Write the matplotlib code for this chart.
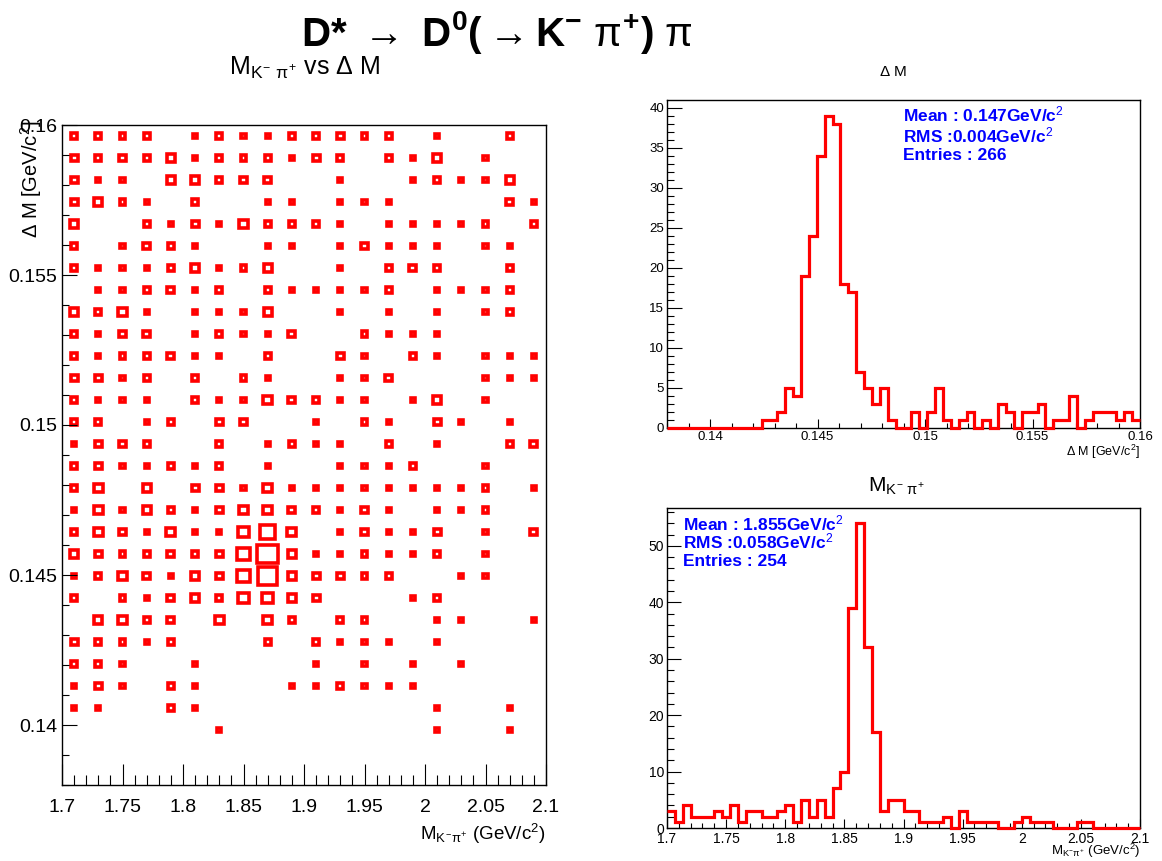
import numpy as np
import matplotlib
matplotlib.use('Agg')
import matplotlib.pyplot as plt
from matplotlib.patches import Rectangle
from matplotlib.ticker import MultipleLocator, FuncFormatter

plt.rcParams['font.family'] = ['Liberation Sans', 'DejaVu Sans']
plt.rcParams['mathtext.fontset'] = 'custom'
plt.rcParams['mathtext.rm'] = 'Liberation Sans'
plt.rcParams['mathtext.it'] = 'Liberation Sans'
plt.rcParams['mathtext.bf'] = 'Liberation Sans:bold'

# Delta M histogram, 60 bins from 0.138 to 0.16
dm_lo, dm_hi, dm_nbins = 0.138, 0.16, 60
dm_counts = [0, 0, 0, 0, 0, 0, 0, 0, 0, 0, 0, 0,
             1, 1, 2, 5, 4, 19, 24, 34, 39, 38, 18, 17, 7, 5, 3, 5, 1, 0,
             0, 2, 0, 2, 5, 1, 0, 1, 2, 0, 1, 0, 3, 2, 0, 2, 2, 3, 0, 1,
             1, 4, 0, 1, 2, 2, 2, 1, 2, 1]

# M(K pi) histogram, 60 bins from 1.7 to 2.1
m_lo, m_hi, m_nbins = 1.7, 2.1, 60
m_counts = [3, 1, 4, 2, 2, 2, 3, 2, 4, 1, 3, 3, 2, 2, 3, 4, 1, 5, 2, 5,
            2, 7, 10, 39, 54, 32, 17, 3, 5, 5, 3, 3, 1, 1, 1, 2, 0, 3, 1, 1,
            1, 1, 0, 0, 1, 2, 1, 1, 1, 0, 0, 0, 1, 1, 0, 0, 0, 0, 0, 0]

# 2D box plot: 20 x-bins (1.7-2.1), 30 y-bins (0.138-0.16), rows listed from the top
box_nx, box_ny = 20, 30
box_counts = [
    [2, 2, 2, 2, 0, 1, 2, 1, 1, 2, 2, 3, 2, 2, 0, 1, 0, 0, 2, 0],
    [3, 2, 3, 2, 4, 1, 2, 2, 2, 1, 3, 2, 0, 2, 1, 4, 0, 1, 0, 0],
    [3, 1, 1, 0, 4, 4, 2, 3, 3, 0, 0, 1, 0, 0, 1, 2, 1, 1, 4, 0],
    [3, 4, 2, 1, 0, 2, 0, 0, 1, 1, 0, 1, 1, 1, 0, 0, 0, 0, 3, 1],
    [4, 0, 0, 2, 1, 3, 1, 4, 2, 2, 2, 1, 0, 1, 1, 1, 1, 2, 0, 2],
    [2, 0, 1, 3, 2, 1, 0, 0, 1, 1, 0, 1, 3, 1, 1, 1, 0, 1, 1, 0],
    [2, 1, 1, 1, 2, 4, 1, 2, 4, 0, 0, 1, 0, 2, 3, 2, 0, 0, 2, 0],
    [0, 1, 1, 2, 3, 1, 2, 0, 2, 1, 1, 1, 1, 2, 0, 1, 1, 1, 2, 0],
    [4, 2, 4, 1, 0, 1, 1, 1, 4, 0, 0, 1, 0, 1, 0, 1, 0, 1, 2, 0],
    [2, 1, 3, 3, 0, 1, 2, 1, 1, 3, 0, 0, 2, 1, 1, 1, 0, 0, 0, 0],
    [2, 1, 2, 2, 3, 1, 1, 0, 2, 0, 0, 3, 1, 0, 2, 1, 0, 1, 1, 1],
    [3, 3, 1, 2, 0, 2, 0, 2, 1, 0, 0, 1, 1, 3, 0, 0, 0, 1, 1, 1],
    [2, 1, 1, 1, 0, 2, 1, 1, 5, 3, 2, 1, 1, 0, 1, 4, 0, 1, 0, 0],
    [2, 2, 0, 1, 2, 0, 3, 3, 0, 0, 1, 0, 2, 1, 0, 3, 1, 0, 1, 0],
    [1, 3, 3, 2, 0, 0, 2, 0, 1, 2, 1, 1, 0, 2, 0, 1, 0, 0, 2, 3],
    [2, 3, 1, 1, 2, 1, 2, 0, 1, 0, 0, 1, 1, 1, 2, 0, 0, 1, 0, 0],
    [2, 5, 0, 4, 0, 3, 3, 1, 5, 1, 1, 1, 1, 1, 1, 1, 1, 2, 0, 1],
    [1, 5, 1, 4, 2, 1, 3, 5, 5, 3, 2, 1, 3, 1, 0, 1, 1, 2, 0, 0],
    [2, 5, 3, 1, 5, 1, 1, 7, 14, 5, 0, 1, 3, 1, 1, 3, 0, 1, 0, 3],
    [4, 3, 2, 2, 3, 2, 3, 12, 27, 4, 1, 1, 2, 1, 1, 2, 0, 1, 0, 0],
    [1, 2, 5, 3, 1, 4, 3, 12, 22, 4, 3, 3, 2, 2, 0, 0, 1, 1, 0, 0],
    [2, 0, 2, 1, 3, 4, 2, 8, 8, 4, 3, 0, 0, 0, 1, 2, 0, 0, 0, 0],
    [0, 4, 4, 2, 3, 0, 5, 0, 5, 2, 0, 2, 2, 0, 0, 1, 1, 0, 0, 1],
    [3, 2, 2, 1, 2, 0, 0, 0, 2, 0, 2, 1, 1, 1, 0, 1, 0, 0, 0, 0],
    [2, 2, 1, 0, 0, 1, 0, 0, 0, 0, 1, 0, 1, 0, 1, 0, 1, 0, 0, 0],
    [1, 3, 1, 0, 2, 1, 0, 0, 0, 1, 1, 2, 1, 1, 1, 0, 0, 0, 0, 0],
    [1, 1, 0, 0, 2, 1, 0, 0, 0, 0, 0, 0, 0, 0, 0, 1, 0, 0, 1, 0],
    [0, 0, 0, 0, 0, 0, 1, 0, 0, 0, 0, 0, 0, 0, 0, 1, 0, 0, 1, 0],
]

dm_stats = ['Mean : 0.147GeV/c$^{2}$', 'RMS :0.004GeV/c$^{2}$', 'Entries : 266']
m_stats = ['Mean : 1.855GeV/c$^{2}$', 'RMS :0.058GeV/c$^{2}$', 'Entries : 254']

W, H = 1162, 861
fig = plt.figure(figsize=(W / 100, H / 100), dpi=100)


def rect(x0, y0, x1, y1):
    return [x0 / W, 1 - y1 / H, (x1 - x0) / W, (y1 - y0) / H]


def ptext(x, y, s, **kw):
    fig.text(x / W, 1 - y / H, s, **kw)


fmt = FuncFormatter(lambda v, p: '%g' % round(v, 6))


def style(ax, xmaj, xmin, ymaj, ymin, xlen, ylen, size, xpad, ypad):
    ax.xaxis.set_major_locator(MultipleLocator(xmaj))
    ax.xaxis.set_minor_locator(MultipleLocator(xmin))
    ax.yaxis.set_major_locator(MultipleLocator(ymaj))
    ax.yaxis.set_minor_locator(MultipleLocator(ymin))
    ax.xaxis.set_major_formatter(fmt)
    ax.yaxis.set_major_formatter(fmt)
    ax.tick_params(which='both', direction='in', top=False, right=False,
                   width=0.8, labelsize=size)
    ax.tick_params(axis='x', which='major', length=xlen, pad=xpad)
    ax.tick_params(axis='x', which='minor', length=xlen / 2)
    ax.tick_params(axis='y', which='major', length=ylen, pad=ypad)
    ax.tick_params(axis='y', which='minor', length=ylen / 2)
    for sp in ax.spines.values():
        sp.set_linewidth(1.0)


# ---- left: 2D box plot
ax2d = fig.add_axes(rect(62, 125, 546, 785))
xe = np.linspace(1.7, 2.1, box_nx + 1)
ye = np.linspace(0.16, 0.138, box_ny + 1)
grid = np.array(box_counts)
zmax = 1.35 * grid.max()
dx = xe[1] - xe[0]
dy = ye[0] - ye[1]
for r, row in enumerate(box_counts):
    for c, n in enumerate(row):
        if n == 0:
            continue
        f = np.sqrt(n / zmax)
        w, h = dx * f, dy * f
        xc = 0.5 * (xe[c] + xe[c + 1])
        yc = 0.5 * (ye[r] + ye[r + 1])
        ax2d.add_patch(Rectangle((xc - w / 2, yc - h / 2), w, h, fill=False,
                                 ec='#ff0000', lw=2.6, joinstyle='miter'))
ax2d.set_xlim(1.7, 2.1)
ax2d.set_ylim(0.138, 0.16)
style(ax2d, 0.05, 0.01, 0.005, 0.001, 15, 10.5, 14, 10, 3.5)

# ---- top right: Delta M
axdm = fig.add_axes(rect(667, 100, 1140, 428))
axdm.stairs(dm_counts, np.linspace(dm_lo, dm_hi, dm_nbins + 1), baseline=None,
            color='#ff0000', lw=2.3, zorder=3, clip_on=False)
axdm.set_xlim(dm_lo, dm_hi)
axdm.set_ylim(0, 1.05 * max(dm_counts))
style(axdm, 0.005, 0.001, 5, 1, 6.5, 10.5, 9.5, 2.5, 2.2)
for i, s in enumerate(dm_stats):
    ptext(903, [114, 135, 155][i], s, color='#0000ff', fontsize=12.5,
          fontweight='bold', ha='left', va='center')

# ---- bottom right: M(K pi)
axm = fig.add_axes(rect(667, 508, 1140, 828))
axm.stairs(m_counts, np.linspace(m_lo, m_hi, m_nbins + 1), baseline=None,
           color='#ff0000', lw=2.3, zorder=3, clip_on=False)
axm.set_xlim(m_lo, m_hi)
axm.set_ylim(0, 1.05 * max(m_counts))
style(axm, 0.05, 0.01, 10, 2, 6.5, 10, 10, 3, 2.2)
for i, s in enumerate(m_stats):
    ptext(683, [523, 541, 561][i], s, color='#0000ff', fontsize=12.5,
          fontweight='bold', ha='left', va='center')

# ---- titles and axis titles
ptext(497, 32, r'D* $\rightarrow$ D$^{\mathbf{0}}$($\rightarrow$K$^{\mathbf{-}}$ '
      r'$\pi^{\mathbf{+}}$) $\pi$',
      fontsize=29, fontweight='bold', ha='center', va='center')
ptext(304, 68, r'M$_{K^{-}\ \pi^{+}}$ vs $\Delta$ M', fontsize=18, ha='center', va='center')
ptext(893, 72, r'$\Delta$ M', fontsize=11, ha='center', va='center')
ptext(896, 486, r'M$_{K^{-}\ \pi^{+}}$', fontsize=15, ha='center', va='center')
ptext(546, 834, r'M$_{K^{-}\pi^{+}}$ (GeV/c$^{2}$)', fontsize=13.5, ha='right', va='center')
ptext(31, 120, r'$\Delta$ M [GeV/c$^{2}$]', fontsize=14.5, rotation=90, ha='center', va='top')
ptext(1140, 452, r'$\Delta$ M [GeV/c$^{2}$]', fontsize=9, ha='right', va='center')
ptext(1140, 851, r'M$_{K^{-}\pi^{+}}$ (GeV/c$^{2}$)', fontsize=9.5, ha='right', va='center')

fig.savefig('out.png', dpi=100, facecolor='white')
